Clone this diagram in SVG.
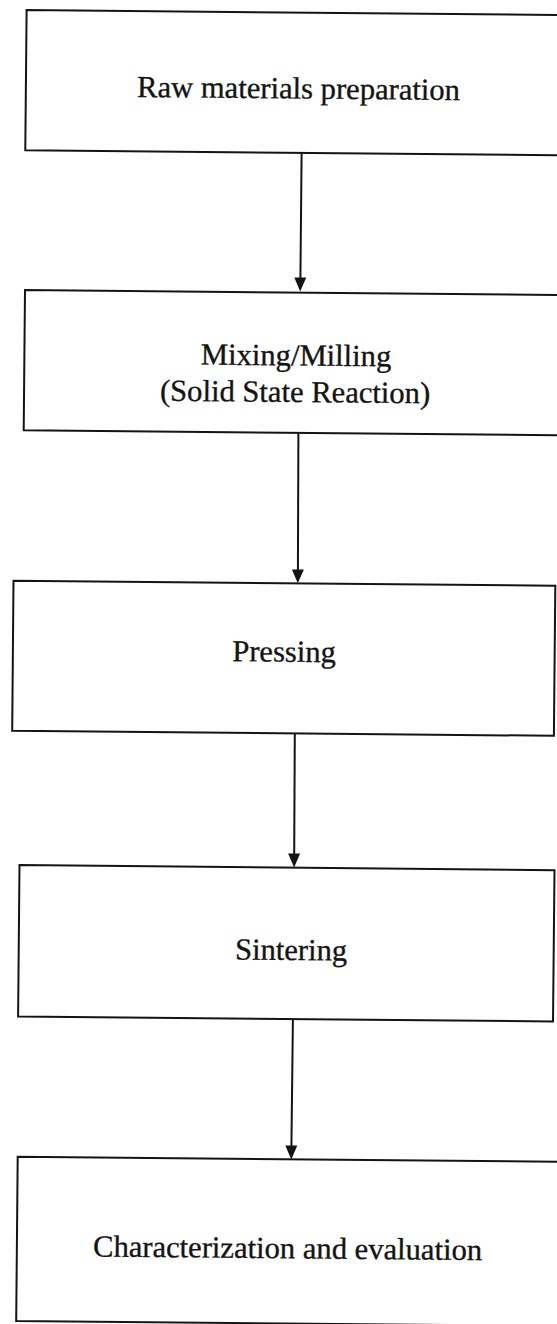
<svg xmlns="http://www.w3.org/2000/svg" width="557" height="1324" viewBox="0 0 557 1324">
  <style>
    .box { fill: none; stroke: #141414; stroke-width: 2; stroke-linejoin: miter; }
    .lbl { font-family: "Liberation Serif", "Times New Roman", serif; font-size: 30.6px; fill: #141414; stroke: #141414; stroke-width: 0.35; text-anchor: middle; }
    .conn line { stroke: #141414; stroke-width: 2; }
    .conn polygon { fill: #141414; }
  </style>
  <rect width="557" height="1324" fill="#ffffff"/>

  <g id="node-raw">
    <path class="box" d="M557,15 L26.6,10 L25.3,150.3 L557,155.3"/>
    <text class="lbl" x="298.5" y="98.5" transform="rotate(0.54 298.5 98.5)">Raw materials preparation</text>
  </g>

  <g id="node-mixing">
    <path class="box" d="M557,295 L25,290 L23.7,430.3 L557,435.3"/>
    <text class="lbl" x="296" y="365.5" transform="rotate(0.54 296 365.5)">Mixing/Milling</text>
    <text class="lbl" x="295" y="402" transform="rotate(0.54 295 402)">(Solid State Reaction)</text>
  </g>

  <g id="node-pressing">
    <path class="box" d="M13.5,580.7 L555.3,585.8 L553.9,735.8 L12.2,730.7 Z"/>
    <text class="lbl" x="284" y="661.7" transform="rotate(0.54 284 661.7)">Pressing</text>
  </g>

  <g id="node-sintering">
    <path class="box" d="M19.5,865 L554.5,870.3 L553,1021.5 L18.1,1016.5 Z"/>
    <text class="lbl" x="291" y="960" transform="rotate(0.54 291 960)">Sintering</text>
  </g>

  <g id="node-characterization">
    <path class="box" d="M557,1161.8 L17.7,1156.7 L16.2,1321 L557,1326"/>
    <text class="lbl" x="287.5" y="1258.3" transform="rotate(0.54 287.5 1258.3)">Characterization and evaluation</text>
  </g>

  <g id="connectors" class="conn">
    <line x1="301.6" y1="153" x2="300.4" y2="279"/>
    <polygon points="294.3,277.5 306.3,277.5 300.2,291.5"/>

    <line x1="298.4" y1="433.5" x2="297.9" y2="571"/>
    <polygon points="291.9,569.5 303.9,569.5 297.8,583.2"/>

    <line x1="294.8" y1="733" x2="294.2" y2="855"/>
    <polygon points="288.1,853.5 300.1,853.5 294.1,867.5"/>

    <line x1="292.9" y1="1019" x2="291.4" y2="1147"/>
    <polygon points="285.3,1145.5 297.3,1145.5 291.3,1159.5"/>
  </g>
</svg>
